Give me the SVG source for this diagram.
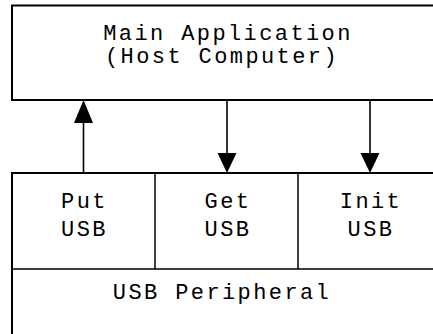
<svg xmlns="http://www.w3.org/2000/svg" width="433" height="334" viewBox="0 0 433 334">
  <style>
    .box { fill: #ffffff; stroke: #000000; stroke-width: 2; }
    .div { fill: none; stroke: #000000; stroke-width: 1.5; }
    .lbl { font-family: "Liberation Mono", "Courier New", monospace; font-size: 22px; letter-spacing: 2.4px; fill: #000000; text-anchor: middle; }
    .wire { fill: none; stroke: #000000; stroke-width: 1.6; }
    .head { fill: #000000; stroke: none; }
  </style>
  <rect width="433" height="334" fill="#ffffff"/>

  <!-- host side -->
  <g id="host">
    <rect class="box" x="12" y="5.5" width="430" height="94.5"/>
    <text class="lbl" x="228" y="39.5">Main Application</text>
    <text class="lbl" x="222" y="62.5">(Host Computer)</text>
  </g>

  <!-- peripheral side with its three driver routines -->
  <g id="peripheral">
    <rect class="box" x="12" y="173" width="430" height="170"/>
    <line class="div" x1="12" y1="269" x2="442" y2="269"/>
    <text class="lbl" x="222" y="299">USB Peripheral</text>
  </g>
  <g id="put-usb">
    <text class="lbl" x="84.5" y="208">Put</text>
    <text class="lbl" x="84.5" y="236">USB</text>
  </g>
  <g id="get-usb">
    <line class="div" x1="155" y1="173" x2="155" y2="269"/>
    <text class="lbl" x="228" y="208">Get</text>
    <text class="lbl" x="228" y="236">USB</text>
  </g>
  <g id="init-usb">
    <line class="div" x1="298" y1="173" x2="298" y2="269"/>
    <text class="lbl" x="371" y="208">Init</text>
    <text class="lbl" x="371" y="236">USB</text>
  </g>

  <!-- connectors -->
  <g id="connectors">
    <line class="wire" x1="83.5" y1="173" x2="83.5" y2="122"/>
    <polygon class="head" points="83.5,100 74,123 93,123"/>
    <line class="wire" x1="227" y1="100" x2="227" y2="154"/>
    <polygon class="head" points="227,173 217.5,153 236.5,153"/>
    <line class="wire" x1="370" y1="100" x2="370" y2="154"/>
    <polygon class="head" points="370,173 360.5,153 379.5,153"/>
  </g>
</svg>
